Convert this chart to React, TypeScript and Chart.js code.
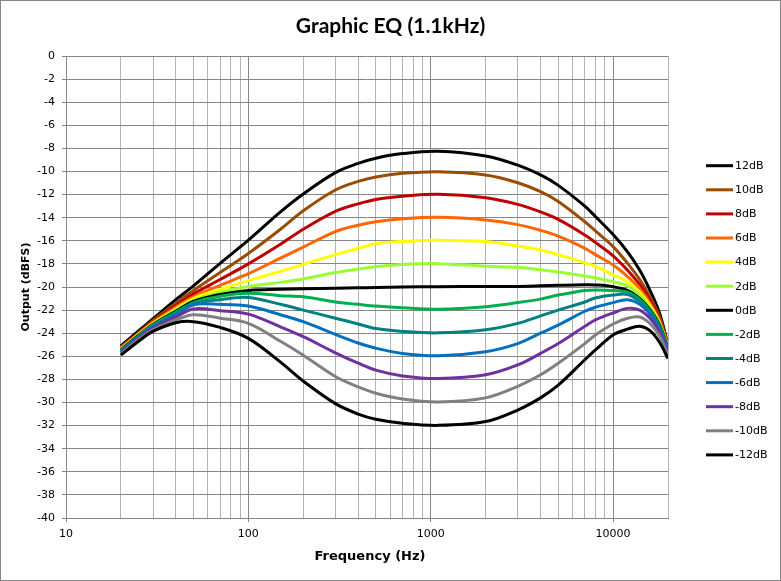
import { useEffect, useRef } from 'react';
import { Chart, registerables } from 'chart.js';
import type { Plugin } from 'chart.js';

Chart.register(...registerables);

// frequencies (Hz) the curves are sampled at
const FREQS = [20, 25, 30, 40, 50, 70, 100, 150, 200, 300, 400, 500, 700, 1100, 2000, 3000, 4000, 5000, 7000, 8000, 10000, 12000, 14000, 16000, 18000, 20000];

const GAIN_P12 = [-25.1, -23.8, -22.75, -21.1, -19.9, -17.95, -15.95, -13.5, -11.95, -10.1, -9.3, -8.85, -8.45, -8.25, -8.66, -9.45, -10.3, -11.2, -13.0, -13.9, -15.45, -16.95, -18.55, -20.35, -22.3, -25.0];
const GAIN_P10 = [-25.2, -23.95, -22.9, -21.4, -20.3, -18.75, -17.1, -15.0, -13.4, -11.6, -10.85, -10.47, -10.16, -10.02, -10.3, -10.97, -11.75, -12.6, -14.35, -15.15, -16.5, -17.95, -19.35, -20.9, -22.6, -25.05];
const GAIN_P8 = [-25.25, -24.0, -23.0, -21.6, -20.6, -19.35, -18.0, -16.3, -15.0, -13.45, -12.8, -12.42, -12.15, -11.98, -12.27, -12.85, -13.5, -14.15, -15.5, -16.15, -17.3, -18.55, -19.8, -21.2, -22.8, -25.1];
const GAIN_P6 = [-25.3, -24.05, -23.05, -21.75, -20.85, -19.85, -18.85, -17.5, -16.55, -15.2, -14.65, -14.35, -14.1, -13.97, -14.2, -14.6, -15.1, -15.6, -16.65, -17.2, -18.1, -19.1, -20.15, -21.45, -22.95, -25.15];
const GAIN_P4 = [-25.35, -24.1, -23.15, -21.9, -21.0, -20.2, -19.45, -18.65, -18.05, -17.2, -16.65, -16.25, -16.05, -15.95, -16.07, -16.45, -16.8, -17.2, -17.9, -18.2, -18.95, -19.55, -20.45, -21.65, -23.1, -25.2];
const GAIN_P2 = [-25.4, -24.15, -23.2, -22.0, -21.15, -20.45, -19.95, -19.6, -19.3, -18.75, -18.45, -18.25, -18.05, -17.98, -18.2, -18.3, -18.5, -18.7, -19.05, -19.2, -19.55, -19.9, -20.7, -21.85, -23.2, -25.25];
const GAIN_0 = [-25.45, -24.2, -23.25, -22.1, -21.25, -20.65, -20.3, -20.2, -20.15, -20.1, -20.07, -20.05, -20.0, -19.98, -19.95, -19.95, -19.9, -19.85, -19.8, -19.82, -19.97, -20.3, -21.0, -22.0, -23.3, -25.3];
const GAIN_M2 = [-25.5, -24.25, -23.3, -22.2, -21.35, -20.8, -20.55, -20.75, -20.85, -21.3, -21.5, -21.65, -21.8, -21.92, -21.7, -21.35, -21.05, -20.7, -20.3, -20.25, -20.3, -20.45, -21.1, -22.1, -23.4, -25.4];
const GAIN_M4 = [-25.55, -24.3, -23.4, -22.3, -21.45, -21.1, -20.9, -21.5, -22.0, -22.7, -23.2, -23.6, -23.85, -23.97, -23.7, -23.15, -22.5, -22.0, -21.3, -20.95, -20.7, -20.65, -21.25, -22.2, -23.5, -25.5];
const GAIN_M6 = [-25.6, -24.4, -23.45, -22.45, -21.55, -21.5, -21.65, -22.4, -23.0, -24.1, -24.85, -25.3, -25.75, -25.95, -25.6, -24.9, -24.0, -23.3, -22.1, -21.75, -21.35, -21.1, -21.5, -22.4, -23.65, -25.6];
const GAIN_M8 = [-25.7, -24.45, -23.55, -22.6, -21.9, -22.05, -22.35, -23.45, -24.3, -25.7, -26.6, -27.2, -27.7, -27.92, -27.6, -26.75, -25.75, -24.9, -23.4, -22.85, -22.25, -21.85, -22.0, -22.75, -23.9, -25.75];
const GAIN_M10 = [-25.8, -24.55, -23.7, -22.85, -22.4, -22.7, -23.15, -24.7, -25.9, -27.75, -28.65, -29.2, -29.7, -29.95, -29.6, -28.6, -27.6, -26.6, -24.9, -24.15, -23.2, -22.7, -22.6, -23.2, -24.25, -25.9];
const GAIN_M12 = [-25.9, -24.7, -23.85, -23.1, -23.0, -23.5, -24.45, -26.5, -28.15, -30.1, -31.0, -31.45, -31.8, -31.98, -31.65, -30.65, -29.6, -28.5, -26.3, -25.45, -24.15, -23.65, -23.4, -23.8, -24.8, -26.2];

const SERIES_LABELS = ['12dB', '10dB', '8dB', '6dB', '4dB', '2dB', '0dB', '-2dB', '-4dB', '-6dB', '-8dB', '-10dB', '-12dB'];
const SERIES_VALUES = [GAIN_P12, GAIN_P10, GAIN_P8, GAIN_P6, GAIN_P4, GAIN_P2, GAIN_0, GAIN_M2, GAIN_M4, GAIN_M6, GAIN_M8, GAIN_M10, GAIN_M12];
const SERIES_COLORS = ['#000000', '#9a4c00', '#c00000', '#ff6600', '#ffff00', '#99ff33', '#000000', '#00b050', '#008080', '#0070c0', '#7030a0', '#808080', '#000000'];

// x axis: labelled decades, plus lighter gridlines at 2..9 of each decade
const X_MAJOR_TICKS = [10, 100, 1000, 10000];
const X_MINOR_STEPS = [2, 3, 4, 5, 6, 7, 8, 9];
const X_MIN = 10;
const X_MAX = 20000;
const Y_MIN = -40;
const Y_MAX = 0;
const Y_STEP = 2;

const TITLE = 'Graphic EQ (1.1kHz)';
const X_TITLE = 'Frequency (Hz)';
const Y_TITLE = 'Output (dBFS)';

const GRID_DARK = '#868686';
const GRID_LIGHT = '#b3b3b3';

// title, x axis title and the legend column are drawn by hand so they sit where Excel put them
const decorations: Plugin<'line'> = {
  id: 'decorations',
  afterDraw(chart) {
    const { ctx, chartArea, width } = chart;
    ctx.save();
    ctx.fillStyle = '#000';
    ctx.textAlign = 'center';
    ctx.textBaseline = 'alphabetic';
    ctx.font = 'bold 21px Lato';
    ctx.fillText(TITLE, width / 2, 31.5);

    ctx.font = 'bold 13px "DejaVu Sans"';
    ctx.fillText(X_TITLE, chartArea.left + (chartArea.right - chartArea.left) / 2 + 3, 559);

    const x = chartArea.right + 38;
    ctx.textAlign = 'left';
    ctx.textBaseline = 'middle';
    ctx.font = '11px "DejaVu Sans"';
    ctx.lineWidth = 3;
    chart.data.datasets.forEach((ds, i) => {
      const y = 164.7 + i * 24.1;
      ctx.strokeStyle = ds.borderColor as string;
      ctx.beginPath();
      ctx.moveTo(x, y);
      ctx.lineTo(x + 27, y);
      ctx.stroke();
      ctx.fillStyle = '#000';
      ctx.fillText(ds.label ?? '', x + 29, y + 0.5);
    });
    ctx.restore();
  },
};

export default function App() {
  const canvasRef = useRef<HTMLCanvasElement>(null);

  useEffect(() => {
    const canvas = canvasRef.current;
    if (!canvas) return;

    const gridTicks: number[] = [];
    X_MAJOR_TICKS.forEach((decade) => {
      gridTicks.push(decade);
      X_MINOR_STEPS.forEach((m) => {
        if (decade * m <= X_MAX) gridTicks.push(decade * m);
      });
    });

    const chart = new Chart(canvas, {
      type: 'line',
      data: {
        datasets: SERIES_LABELS.map((label, i) => ({
          label,
          data: FREQS.map((f, j) => ({ x: f, y: SERIES_VALUES[i][j] })),
          borderColor: SERIES_COLORS[i],
          backgroundColor: SERIES_COLORS[i],
          borderWidth: 3,
          pointRadius: 0,
          tension: 0.35,
          fill: false,
          order: SERIES_LABELS.length - i,
        })),
      },
      plugins: [decorations],
      options: {
        animation: false,
        responsive: true,
        maintainAspectRatio: false,
        layout: { padding: { left: 0, right: 112, top: 55, bottom: 0 } },
        plugins: {
          legend: { display: false },
          tooltip: { enabled: false },
          title: { display: false },
        },
        scales: {
          x: {
            type: 'logarithmic',
            min: X_MIN,
            max: X_MAX,
            afterBuildTicks: (scale) => {
              scale.ticks = gridTicks.map((v) => ({ value: v, major: X_MAJOR_TICKS.includes(v) }));
            },
            afterFit: (scale) => {
              scale.height = 62;
            },
            ticks: {
              autoSkip: false,
              maxRotation: 0,
              color: '#000',
              padding: 6,
              font: { family: 'DejaVu Sans', size: 11 },
              callback: (value) => (X_MAJOR_TICKS.includes(Number(value)) ? String(value) : ''),
            },
            grid: {
              color: (ctx) => (X_MAJOR_TICKS.includes(ctx.tick?.value) ? GRID_DARK : GRID_LIGHT),
              tickColor: (ctx) => (X_MAJOR_TICKS.includes(ctx.tick?.value) ? GRID_DARK : 'rgba(0,0,0,0)'),
              tickLength: 4,
              lineWidth: 1,
            },
            border: { color: GRID_DARK },
          },
          y: {
            type: 'linear',
            min: Y_MIN,
            max: Y_MAX,
            afterFit: (scale) => {
              scale.width = 65;
            },
            ticks: {
              stepSize: Y_STEP,
              color: '#000',
              padding: 7,
              font: { family: 'DejaVu Sans', size: 11 },
            },
            grid: {
              color: GRID_DARK,
              tickColor: GRID_DARK,
              tickLength: 4,
              lineWidth: 1,
            },
            border: { color: GRID_DARK },
            title: {
              display: true,
              text: Y_TITLE,
              color: '#000',
              font: { family: 'DejaVu Sans', size: 11, weight: 'bold' },
              padding: { top: 19, bottom: 0 },
            },
          },
        },
      },
    });

    return () => {
      chart.destroy();
    };
  }, []);

  return (
    <div
      style={{
        position: 'fixed',
        left: 0,
        top: 0,
        width: 781,
        height: 581,
        boxSizing: 'border-box',
        border: '1px solid #868686',
        background: '#fff',
      }}
    >
      <canvas ref={canvasRef}></canvas>
    </div>
  );
}
